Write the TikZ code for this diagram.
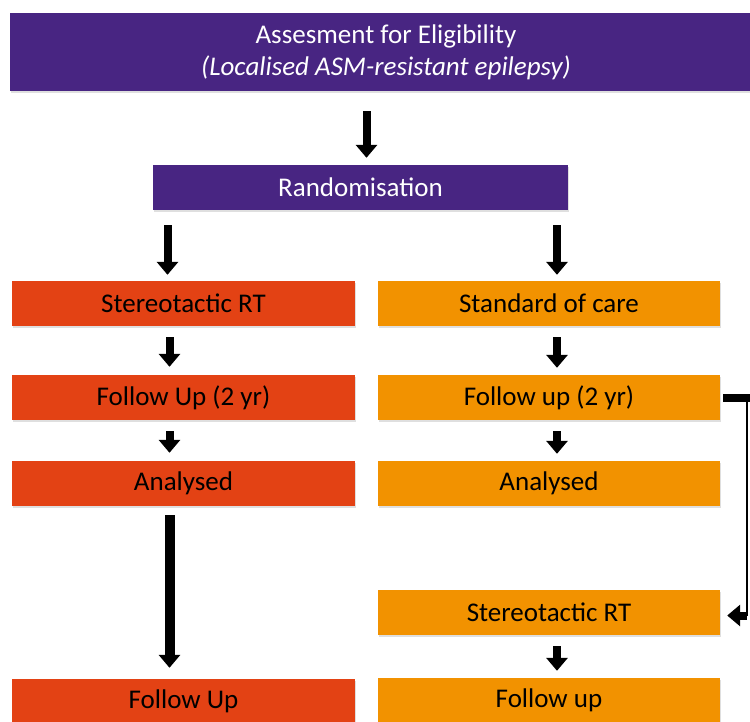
\documentclass[tikz,border=0pt]{standalone}
\usepackage{fontspec}
\setmainfont{Carlito}
\usetikzlibrary{arrows.meta, shadows}

\definecolor{trialpurple}{RGB}{72,37,130}
\definecolor{trialred}{RGB}{227,66,20}
\definecolor{trialorange}{RGB}{242,146,0}

\tikzset{
box/.style={minimum height=45pt, inner sep=0pt, align=center, font=\fontsize{27}{32}\selectfont, drop shadow={shadow xshift=1pt, shadow yshift=-2pt, opacity=0.25}},
purplebox/.style={box, fill=trialpurple, text=white},
redbox/.style={box, fill=trialred, minimum width=343pt},
orangebox/.style={box, fill=trialorange, minimum width=342pt},
flow/.style={line width=8pt, -{Triangle[width=21pt, length=13pt]}},
}

\begin{document}
\begin{tikzpicture}[x=1pt, y=-1pt]
\useasboundingbox (0,0) rectangle (750,721);
\clip (0,0) rectangle (750,721);
\node[purplebox, minimum width=752pt, minimum height=78pt] (assess) at (386,52) {Assesment for Eligibility\\ \textit{(Localised ASM-resistant epilepsy)}};
\node[purplebox, minimum width=415pt] (rand) at (360.5,187.5) {Randomisation};
\node[redbox] (lsrt) at (183.5,303.5) {Stereotactic RT};
\node[redbox] (lfu) at (183.5,397.5) {Follow Up (2 yr)};
\node[redbox] (lan) at (183.5,483.5) {Analysed};
\node[redbox] (lfin) at (183.5,701.5) {Follow Up};
\node[orangebox] (rsoc) at (549,303.5) {Standard of care};
\node[orangebox] (rfu) at (549,397.5) {Follow up (2 yr)};
\node[orangebox] (ran) at (549,483.5) {Analysed};
\node[orangebox] (rsrt) at (549,612.5) {Stereotactic RT};
\node[orangebox] (rfin) at (549,700.5) {Follow up};
\coordinate (bend) at (747,0);
\draw[flow, shorten <=20pt, shorten >=7pt] ([xshift=6pt]rand.north |- assess.south) -- ([xshift=6pt]rand.north);
\draw[flow, shorten <=15pt, shorten >=6pt] ([xshift=-16pt]lsrt.north |- rand.south) -- ([xshift=-16pt]lsrt.north);
\draw[flow, shorten <=15pt, shorten >=6pt] ([xshift=8pt]rsoc.north |- rand.south) -- ([xshift=8pt]rsoc.north);
\foreach \a/\b in {lsrt/lfu, lfu/lan} {
\draw[flow, shorten <=11pt, shorten >=8pt] ([xshift=-14pt]\a.south) -- ([xshift=-14pt]\b.north);
}
\foreach \a/\b in {rsoc/rfu, rfu/ran, rsrt/rfin} {
\draw[flow, shorten <=11pt, shorten >=7pt] ([xshift=8pt]\a.south) -- ([xshift=8pt]\b.north);
}
\draw[flow, line width=10pt, shorten <=9pt, shorten >=11pt] ([xshift=-14pt]lan.south) -- ([xshift=-14pt]lfin.north);
\draw[line width=8pt] ([xshift=3pt]rfu.east) -- ([xshift=3pt]rfu.east -| bend);
\draw[line width=1.5pt] (rfu.east -| bend) -- ([yshift=-3pt]rsrt.east -| bend);
\draw[flow] ([yshift=-3pt]rsrt.east -| bend) -- ([xshift=7pt, yshift=-3pt]rsrt.east);
\end{tikzpicture}
\end{document}
